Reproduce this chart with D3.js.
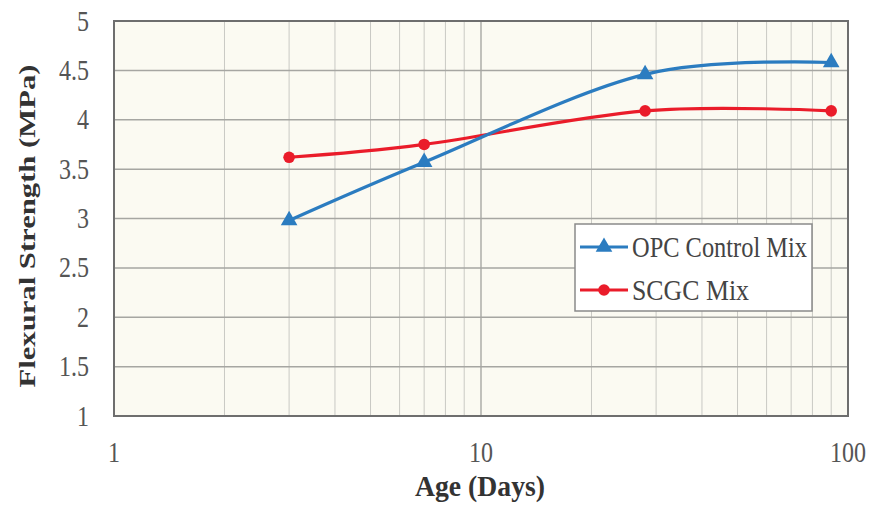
<!DOCTYPE html>
<html><head><meta charset="utf-8">
<script src="https://cdn.jsdelivr.net/npm/d3@7"></script>
<style>body{margin:0;background:#fff}svg{display:block}</style>
</head><body><svg id="c" width="870" height="506"></svg>
<script>
const days = [3, 7, 28, 90];
const opcValues = [2.98, 3.57, 4.46, 4.58];
const scgcValues = [3.62, 3.75, 4.09, 4.09];
const seriesNames = ["OPC Control Mix", "SCGC Mix"];
const yTicks = [1, 1.5, 2, 2.5, 3, 3.5, 4, 4.5, 5];
const xTicks = [1, 10, 100];

const svg = d3.select("#c");
const L = 114, R = 848, T = 21, B = 416;
const x = d3.scaleLog().domain([1, 100]).range([L, R]);
const y = d3.scaleLinear().domain([1, 5]).range([B, T]);
const font = "'Liberation Serif','Times New Roman',serif";
const SY = 1.2;

svg.append("rect").attr("x", L).attr("y", T).attr("width", R - L).attr("height", B - T).attr("fill", "#fbfaf2");

const minor = [];
for (const d of [1, 10]) for (let k = 2; k <= 9; k++) minor.push(d * k);
svg.append("g").selectAll("line").data(minor).join("line")
  .attr("x1", d => x(d)).attr("x2", d => x(d)).attr("y1", T).attr("y2", B)
  .attr("stroke", "#c9c9c4").attr("stroke-width", 1);
svg.append("g").selectAll("line").data(xTicks).join("line")
  .attr("x1", d => x(d)).attr("x2", d => x(d)).attr("y1", T).attr("y2", B)
  .attr("stroke", "#9a9a96").attr("stroke-width", 1.2);
svg.append("g").selectAll("line").data(yTicks).join("line")
  .attr("x1", L).attr("x2", R).attr("y1", d => y(d)).attr("y2", d => y(d))
  .attr("stroke", "#a6a6a2").attr("stroke-width", 1.5);
svg.append("rect").attr("x", L).attr("y", T).attr("width", R - L).attr("height", B - T)
  .attr("fill", "none").attr("stroke", "#6e6e6e").attr("stroke-width", 2);

// tick labels (vertically stretched like the reference)
svg.append("g").selectAll("text").data(yTicks).join("text")
  .attr("transform", d => `translate(89,${y(d)}) scale(1,${SY})`)
  .attr("dy", "0.33em").attr("text-anchor", "end")
  .attr("font-family", font).attr("font-size", 24).attr("fill", "#555")
  .text(d => d);
svg.append("g").selectAll("text").data(xTicks).join("text")
  .attr("transform", d => `translate(${x(d)},452) scale(1,${SY})`)
  .attr("dy", "0.33em").attr("text-anchor", "middle")
  .attr("font-family", font).attr("font-size", 24).attr("fill", "#555")
  .text(d => d);

svg.append("text").attr("transform", `translate(480,496) scale(1,${SY})`).attr("text-anchor", "middle")
  .attr("font-family", font).attr("font-size", 24).attr("font-weight", "bold").attr("fill", "#333")
  .attr("textLength", 130).attr("lengthAdjust", "spacingAndGlyphs")
  .text("Age (Days)");
svg.append("text").attr("transform", "translate(35,226) rotate(-90)")
  .attr("text-anchor", "middle")
  .attr("font-family", font).attr("font-size", 24).attr("font-weight", "bold").attr("fill", "#333")
  .attr("textLength", 323).attr("lengthAdjust", "spacingAndGlyphs")
  .text("Flexural  Strength (MPa)");

const line = d3.line().x(d => x(d[0])).y(d => y(d[1])).curve(d3.curveCardinal.tension(0));
const blue = "#2b7cc0", red = "#ea1c2a";
const opc = days.map((d, i) => [d, opcValues[i]]);
const scgc = days.map((d, i) => [d, scgcValues[i]]);

svg.append("path").attr("d", line(scgc)).attr("fill", "none").attr("stroke", red).attr("stroke-width", 3.2);
svg.append("path").attr("d", line(opc)).attr("fill", "none").attr("stroke", blue).attr("stroke-width", 3.2);

const tri = d3.symbol().type(d3.symbolTriangle).size(120);
svg.append("g").selectAll("path").data(opc).join("path")
  .attr("d", tri).attr("transform", d => `translate(${x(d[0])},${y(d[1])})`).attr("fill", blue);
svg.append("g").selectAll("circle").data(scgc).join("circle")
  .attr("cx", d => x(d[0])).attr("cy", d => y(d[1])).attr("r", 5.8).attr("fill", red);

// legend
const lg = svg.append("g");
lg.append("rect").attr("x", 575).attr("y", 224).attr("width", 237).attr("height", 87)
  .attr("fill", "#fff").attr("stroke", "#8a8a8a").attr("stroke-width", 1.5);
const rows = [{name: seriesNames[0], c: blue, t: "tri", yy: 247, w: 175}, {name: seriesNames[1], c: red, t: "circ", yy: 290, w: 117}];
rows.forEach(r => {
  lg.append("line").attr("x1", 580).attr("x2", 628).attr("y1", r.yy).attr("y2", r.yy).attr("stroke", r.c).attr("stroke-width", 3.2);
  if (r.t === "tri") lg.append("path").attr("d", tri).attr("transform", `translate(604,${r.yy})`).attr("fill", r.c);
  else lg.append("circle").attr("cx", 604).attr("cy", r.yy).attr("r", 5.8).attr("fill", r.c);
  lg.append("text").attr("transform", `translate(632,${r.yy}) scale(1,${SY})`).attr("dy", "0.33em")
    .attr("font-family", font).attr("font-size", 24).attr("fill", "#444")
    .attr("textLength", r.w).attr("lengthAdjust", "spacingAndGlyphs").text(r.name);
});
</script></body></html>
